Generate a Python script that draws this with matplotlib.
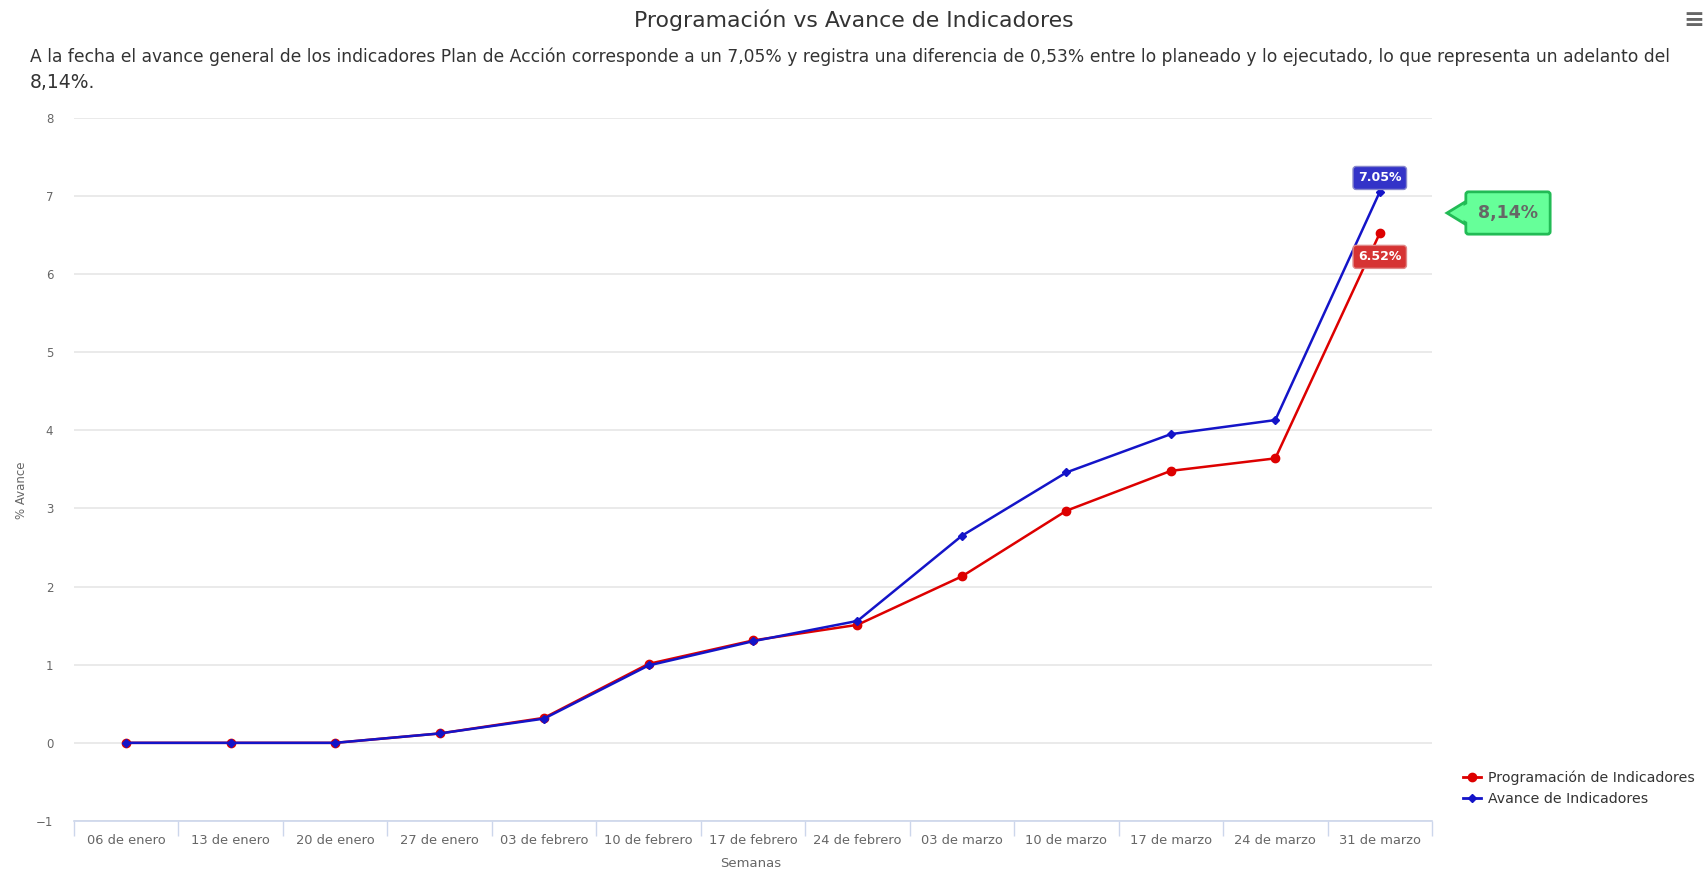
import matplotlib.pyplot as plt
from matplotlib.lines import Line2D
from matplotlib.patches import Polygon

plt.rcParams['font.family'] = ['DejaVu Sans']

semanas = ["06 de enero", "13 de enero", "20 de enero", "27 de enero", "03 de febrero",
           "10 de febrero", "17 de febrero", "24 de febrero", "03 de marzo", "10 de marzo",
           "17 de marzo", "24 de marzo", "31 de marzo"]
programacion = [0, 0, 0, 0.12, 0.32, 1.01, 1.31, 1.51, 2.13, 2.97, 3.48, 3.64, 6.52]
avance = [0, 0, 0, 0.12, 0.31, 0.99, 1.30, 1.56, 2.65, 3.46, 3.95, 4.13, 7.05]
adelanto = "8,14%"

W, H = 1707, 872
fig = plt.figure(figsize=(W / 100, H / 100), dpi=100)
ax = fig.add_axes([74 / W, 1 - 821 / H, (1432 - 74) / W, (821 - 117.6) / H])

x = list(range(len(semanas)))
red = '#dd0000'
blue = '#1414c8'
ax.plot(x, programacion, color=red, lw=1.8, marker='o', ms=6, zorder=3)
ax.plot(x, avance, color=blue, lw=1.8, marker='D', ms=4.5, zorder=4)

ax.set_xlim(-0.5, len(semanas) - 0.5)
ax.set_ylim(-1, 8)
ax.set_yticks(range(-1, 9))
ax.set_yticklabels(['−1'] + [str(i) for i in range(0, 9)])
ax.tick_params(axis='y', length=0, labelsize=8.5, labelcolor='#666666', pad=15)
ax.grid(axis='y', color='#e6e6e6', lw=1.2)
ax.set_xticks(x)
ax.set_xticklabels(semanas, fontsize=9.4, color='#666666')
ax.set_xticks([i - 0.5 for i in range(len(semanas) + 1)], minor=True)
ax.tick_params(axis='x', which='major', length=0, pad=9)
ax.tick_params(axis='x', which='minor', length=11, color='#ccd6eb', width=1)
for s in ['top', 'right', 'left']:
    ax.spines[s].set_visible(False)
ax.spines['bottom'].set_color('#ccd6eb')
ax.spines['bottom'].set_linewidth(1.2)
ax.set_axisbelow(True)

ax.set_ylabel('% Avance', fontsize=8.5, color='#666666')
ax.yaxis.set_label_coords(-0.034, 0.47)
fig.text(751 / W, 1 - 863 / H, 'Semanas', fontsize=9.5, color='#666666', ha='center', va='center')

# etiquetas de datos del ultimo punto
ax.annotate(f"{avance[-1]:.2f}%", (x[-1], avance[-1]), xytext=(0, 10), textcoords='offset points',
            ha='center', va='center', fontsize=9, fontweight='bold', color='white', zorder=6,
            bbox=dict(boxstyle='round,pad=0.4,rounding_size=0.25', fc='#3333c8', ec='#8888cc', lw=1))
ax.annotate(f"{programacion[-1]:.2f}%", (x[-1], programacion[-1]), xytext=(0, -17), textcoords='offset points',
            ha='center', va='center', fontsize=9, fontweight='bold', color='white', zorder=6,
            bbox=dict(boxstyle='round,pad=0.4,rounding_size=0.25', fc='#d63333', ec='#e08888', lw=1))

# globo de adelanto
fig.text(1508 / W, 1 - 213 / H, adelanto, fontsize=12.5, fontweight='bold', color='#666666',
         ha='center', va='center', zorder=6,
         bbox=dict(boxstyle='round,pad=0.7,rounding_size=0.15', fc='#66ff99', ec='#22bb55', lw=2))
tri = Polygon([[1447 / W, 1 - 213 / H], [1465 / W, 1 - 202 / H], [1465 / W, 1 - 224 / H]],
              closed=True, transform=fig.transFigure, fc='#66ff99', ec='#22bb55', lw=2, zorder=5)
fig.patches.append(tri)
tri2 = Polygon([[1451 / W, 1 - 213 / H], [1469 / W, 1 - 203 / H], [1469 / W, 1 - 223 / H]],
               closed=True, transform=fig.transFigure, fc='#66ff99', ec='none', zorder=7)
fig.patches.append(tri2)

fig.text(0.5, 1 - 20 / H, 'Programación vs Avance de Indicadores', fontsize=15.8, color='#333333',
         ha='center', va='center')
fig.text(30 / W, 1 - 57 / H,
         'A la fecha el avance general de los indicadores Plan de Acción corresponde a un 7,05% y registra una '
         'diferencia de 0,53% entre lo planeado y lo ejecutado, lo que representa un adelanto del',
         fontsize=12.3, color='#333333', ha='left', va='center')
fig.text(30 / W, 1 - 83 / H, adelanto + '.', fontsize=13.5, color='#333333', ha='left', va='center')
fig.text(1694 / W, 1 - 20 / H, '≡', fontsize=18, color='#666666', ha='center', va='center',
         fontweight='bold')

handles = [Line2D([], [], color=red, lw=2, marker='o', ms=6),
           Line2D([], [], color=blue, lw=2, marker='D', ms=4.5)]
fig.legend(handles, ['Programación de Indicadores', 'Avance de Indicadores'],
           loc='upper left', bbox_to_anchor=(1450 / W, 1 - 758 / H), frameon=False,
           fontsize=10.2, handlelength=1.3, handletextpad=0.5, labelspacing=0.45, labelcolor='#333333')

fig.savefig('out.png', dpi=100, facecolor='white')
